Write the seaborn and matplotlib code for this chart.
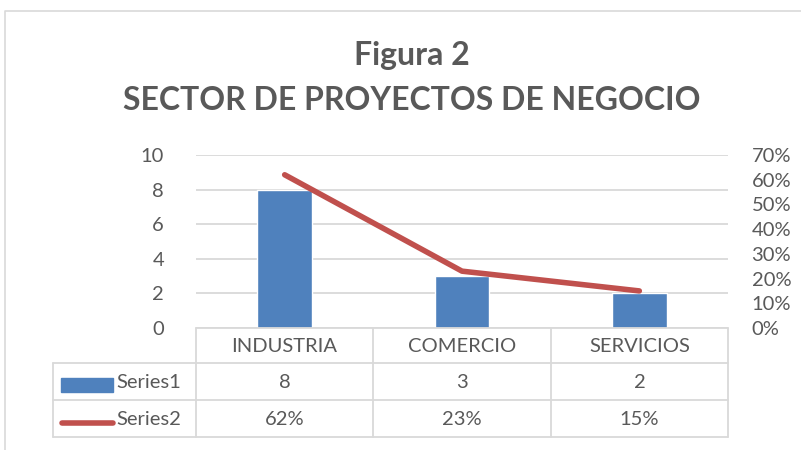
import numpy as np
import pandas as pd
import matplotlib
matplotlib.use("Agg")
import matplotlib.pyplot as plt
import seaborn as sns

categories = ["INDUSTRIA", "COMERCIO", "SERVICIOS"]
series1 = [8, 3, 2]
series2 = [0.62, 0.23, 0.15]
series_names = ["Series1", "Series2"]
left_ticks = [0, 2, 4, 6, 8, 10]
right_ticks = [0.0, 0.1, 0.2, 0.3, 0.4, 0.5, 0.6, 0.7]
title_lines = ["Figura 2", "SECTOR DE PROYECTOS DE NEGOCIO"]

sns.set_theme(style="white")
plt.rcParams["font.family"] = ["Lato", "DejaVu Sans"]

TXT = "#595959"
GRID = "#D9D9D9"
BLUE = "#4F81BD"
RED = "#C0504D"

W, H = 801, 450
fig = plt.figure(figsize=(W / 100, H / 100), dpi=100)

# plot area in pixels
px0, px1, py0, py1 = 196, 728, 155, 328
ax = fig.add_axes([px0 / W, 1 - py1 / H, (px1 - px0) / W, (py1 - py0) / H])
df = pd.DataFrame({"x": np.arange(len(categories)), "v": series1})
sns.barplot(data=df, x="x", y="v", color=BLUE, width=0.31, ax=ax,
            saturation=1, native_scale=True, zorder=3)
ax.set_xlim(-0.5, len(categories) - 0.5)
ax.set_ylim(0, 10)
ax.set_yticks(left_ticks)
ax.set_yticklabels([str(t) for t in left_ticks], fontsize=14.5, color=TXT)
ax.set_xticks([])
ax.set_xlabel("")
ax.set_ylabel("")
ax.grid(axis="y", color=GRID, lw=1.3, zorder=0)
ax.set_axisbelow(True)
for s in ax.spines.values():
    s.set_visible(False)
ax.tick_params(axis="y", length=0, pad=23)
ax.patch.set_alpha(0)

ax2 = ax.twinx()
df2 = pd.DataFrame({"x": np.arange(len(categories)), "p": series2})
sns.lineplot(data=df2, x="x", y="p", color=RED, lw=4, ax=ax2,
             solid_capstyle="round")
ax2.set_ylim(0, 0.7)
ax2.set_yticks(right_ticks)
ax2.set_yticklabels([f"{int(round(t*100))}%" for t in right_ticks], fontsize=14.5, color=TXT)
ax2.tick_params(axis="y", length=0, pad=17)
ax2.set_xlabel("")
ax2.set_ylabel("")
ax2.set_xlim(-0.5, len(categories) - 0.5)
for s in ax2.spines.values():
    s.set_visible(False)

ov = fig.add_axes([0, 0, 1, 1], zorder=-1)
ov.set_xlim(0, W)
ov.set_ylim(H, 0)
ov.axis("off")
ov.patch.set_alpha(0)

ov2 = fig.add_axes([0, 0, 1, 1], zorder=5)
ov2.set_xlim(0, W)
ov2.set_ylim(H, 0)
ov2.axis("off")
ov2.patch.set_alpha(0)

# chart border
ov.plot([5, 5, 805], [460, 11, 11], color="#D9D9D9", lw=1.2)

# title
ov2.text(412, 55, title_lines[0], ha="center", va="center", fontsize=23,
         fontweight="bold", color=TXT)
ov2.text(412, 101, title_lines[1], ha="center", va="center", fontsize=23,
         fontweight="bold", color=TXT)

# table
colx = [px0, 373, 551, px1]
rows = [328, 363, 400, 437]
lx = 53
lw = 1.3
ov2.plot([px0, px1], [rows[0], rows[0]], color=GRID, lw=lw)
for y in rows[1:]:
    ov2.plot([lx, px1], [y, y], color=GRID, lw=lw)
for x in colx:
    ov2.plot([x, x], [rows[0], rows[3]], color=GRID, lw=lw)
ov2.plot([lx, lx], [rows[1], rows[3]], color=GRID, lw=lw)

fs = 14.5
for i, c in enumerate(categories):
    xc = (colx[i] + colx[i + 1]) / 2
    ov2.text(xc, (rows[0] + rows[1]) / 2 + 1, c, ha="center", va="center", fontsize=fs, color=TXT)
    ov2.text(xc, (rows[1] + rows[2]) / 2 + 1, str(series1[i]), ha="center", va="center", fontsize=fs, color=TXT)
    ov2.text(xc, (rows[2] + rows[3]) / 2 + 1, f"{int(round(series2[i]*100))}%", ha="center", va="center", fontsize=fs, color=TXT)

ov2.add_patch(plt.Rectangle((61, 378), 52, 14, color=BLUE))
ov2.plot([62, 113], [423, 423], color=RED, lw=4, solid_capstyle="round")
ov2.text(116, (rows[1] + rows[2]) / 2 + 1, series_names[0], ha="left", va="center", fontsize=fs, color=TXT)
ov2.text(116, (rows[2] + rows[3]) / 2 + 1, series_names[1], ha="left", va="center", fontsize=fs, color=TXT)

fig.savefig("out.png", dpi=100, facecolor="white")
